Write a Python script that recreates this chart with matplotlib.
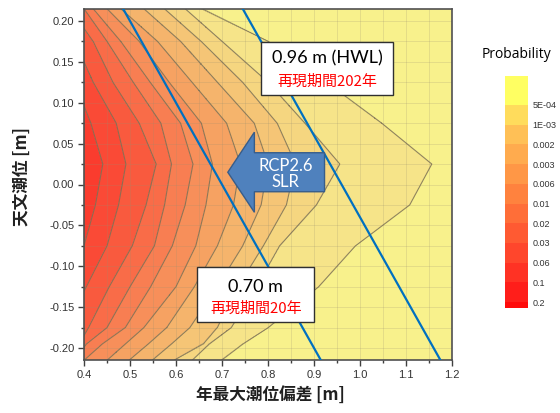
import numpy as np
import matplotlib
matplotlib.use("Agg")
import matplotlib.pyplot as plt
from matplotlib.cm import ScalarMappable
from matplotlib.colors import ListedColormap, BoundaryNorm
from matplotlib.patches import Rectangle, FancyArrow
from matplotlib.ticker import MultipleLocator

plt.rcParams['font.family'] = ['Liberation Sans', 'Noto Sans CJK JP', 'DejaVu Sans']
CJK = ['Noto Sans CJK JP', 'DejaVu Sans']

# probability contour levels (high -> low) and their colorbar labels
prob_levels = [0.2, 0.1, 0.06, 0.03, 0.02, 0.01, 0.006, 0.003, 0.002, 1e-3, 5e-4]
level_labels = ['0.2', '0.1', '0.06', '0.03', '0.02', '0.01', '0.006', '0.003', '0.002', '1E-03', '5E-04']

# astronomical tide rows [m]
tide_rows = [0.215, 0.175, 0.125, 0.075, 0.025, -0.025, -0.075, -0.125, -0.175, -0.195, -0.215]

# annual max surge [m] where each probability contour crosses the tide rows
cross_p2000 = [0.30, 0.34, 0.38, 0.415, 0.441, 0.425, 0.400, 0.360, 0.320, 0.300, 0.280]
cross_p1000 = [0.34, 0.38, 0.42, 0.470, 0.491, 0.475, 0.450, 0.405, 0.360, 0.340, 0.320]
cross_p0600 = [0.37, 0.42, 0.463, 0.520, 0.557, 0.535, 0.505, 0.455, 0.410, 0.390, 0.350]
cross_p0300 = [0.40, 0.45, 0.507, 0.567, 0.590, 0.575, 0.553, 0.500, 0.450, 0.405, 0.380]
cross_p0200 = [0.42, 0.48, 0.544, 0.610, 0.637, 0.620, 0.592, 0.545, 0.490, 0.440, 0.400]
cross_p0100 = [0.45, 0.52, 0.585, 0.655, 0.679, 0.665, 0.643, 0.600, 0.530, 0.490, 0.450]
cross_p0060 = [0.48, 0.56, 0.635, 0.710, 0.740, 0.725, 0.690, 0.640, 0.580, 0.540, 0.498]
cross_p0030 = [0.53, 0.61, 0.690, 0.770, 0.800, 0.785, 0.745, 0.690, 0.630, 0.590, 0.548]
cross_p0020 = [0.575, 0.655, 0.745, 0.820, 0.860, 0.840, 0.790, 0.735, 0.690, 0.660, 0.596]
cross_p0010 = [0.62, 0.70, 0.800, 0.880, 0.956, 0.905, 0.825, 0.775, 0.720, 0.672, 0.635]
cross_p0005 = [0.655, 0.80, 0.927, 1.047, 1.156, 1.108, 0.990, 0.910, 0.800, 0.745, 0.698]

# total water levels of the two reference lines [m]
total_levels = [0.70, 0.96]

# map fill colours, from the >0.2 region down to the <5E-04 region
map_colors = ['#fa3c2e', '#fa4a36', '#f95a3e', '#f96c48', '#f87e52', '#f78f5a',
              '#f6a262', '#f5b46c', '#f5c576', '#f5d680', '#f6e489', '#f8f18c']
# colorbar colours, same order
bar_colors = ['#ff0a0a', '#ff1e1a', '#ff3224', '#ff462c', '#ff5a32', '#ff6e38',
              '#ff823e', '#ff9746', '#ffab4e', '#ffc056', '#ffdc5c', '#ffff62']

cross = np.array([cross_p2000, cross_p1000, cross_p0600, cross_p0300, cross_p0200,
                  cross_p0100, cross_p0060, cross_p0030, cross_p0020, cross_p0010,
                  cross_p0005])
neglog = -np.log10(prob_levels)

# contour vertices are joined by straight segments, so sample the table densely
surge = np.linspace(0.38, 1.22, 841)
tide = np.linspace(-0.215, 0.215, 345)
rows = np.array(tide_rows)[::-1]
Z = np.empty((tide.size, surge.size))
for i, t in enumerate(tide):
    xc = [np.interp(t, rows, c[::-1]) for c in cross]
    xs = np.concatenate([[0.0], xc, [2.0]])
    zs = np.concatenate([[neglog[0] - 1.0], neglog, [neglog[-1] + 1.0]])
    Z[i] = np.interp(surge, xs, zs)

map_cmap = ListedColormap(map_colors[1:-1])
map_cmap.set_under(map_colors[0])
map_cmap.set_over(map_colors[-1])
bar_cmap = ListedColormap(bar_colors)

fig = plt.figure(figsize=(5.6, 4.13), dpi=100)
ax = fig.add_axes([84 / 560, 53 / 413, 368 / 560, 351 / 413])

ax.contourf(surge, tide, Z, levels=neglog, cmap=map_cmap, extend='both')
ax.contour(surge, tide, Z, levels=neglog, colors='#7d6f55', linewidths=0.8, alpha=0.85)

# reference total water level lines: surge + tide = const
for lv in total_levels:
    yy = np.array([-0.3, 0.3])
    ax.plot(lv - yy, yy, color='#0070c0', lw=1.6, zorder=4)

ax.set_xlim(0.4, 1.2)
ax.set_ylim(-0.2147, 0.2147)
ax.xaxis.set_major_locator(MultipleLocator(0.1))
ax.xaxis.set_minor_locator(MultipleLocator(0.05))
ax.yaxis.set_major_locator(MultipleLocator(0.05))
ax.yaxis.set_minor_locator(MultipleLocator(0.025))
ax.xaxis.set_major_formatter(plt.FuncFormatter(lambda v, p: f'{v:.1f}'))
ax.yaxis.set_major_formatter(plt.FuncFormatter(lambda v, p: f'{v:.2f}'))
ax.tick_params(which='major', length=4, width=1, color='#404040', labelsize=8,
               labelcolor='#333333', pad=3)
ax.tick_params(which='minor', length=2.5, width=1, color='#404040')
ax.grid(which='both', color='#9a8f70', alpha=0.25, lw=0.6)
for sp in ax.spines.values():
    sp.set_color('#505050')
    sp.set_linewidth(1.2)

# label boxes
ax.add_patch(Rectangle((0.7856, 0.1095), 0.2854, 0.0648, facecolor='white',
                       edgecolor='#303030', lw=1.0, zorder=5))
ax.text(0.928, 0.1545, '0.96 m (HWL)', ha='center', va='center', fontsize=13,
        family=['Lato', 'DejaVu Sans'], zorder=6)
ax.text(0.928, 0.1262, '再現期間202年', ha='center', va='center', fontsize=10.8,
        color='#ff0000', family=CJK, zorder=6)

ax.add_patch(Rectangle((0.646, -0.1682), 0.255, 0.0673, facecolor='white',
                       edgecolor='#303030', lw=1.0, zorder=5))
ax.text(0.7735, -0.1254, '0.70 m', ha='center', va='center', fontsize=13,
        family=['Lato', 'DejaVu Sans'], zorder=6)
ax.text(0.7735, -0.1515, '再現期間20年', ha='center', va='center', fontsize=10.8,
        color='#ff0000', family=CJK, zorder=6)

# sea level rise arrow
ax.add_patch(FancyArrow(0.9229, 0.0150, -0.2103, 0.0, width=0.0477, head_width=0.098,
                        head_length=0.0578, length_includes_head=True,
                        facecolor='#4f81bd', edgecolor='#385d8a', lw=1.0, zorder=5))
ax.text(0.838, 0.0129, 'RCP2.6\nSLR', ha='center', va='center', fontsize=12,
        color='white', linespacing=1.05, family=['Lato', 'DejaVu Sans'], zorder=6)

fig.text(270 / 560, 1 - 395 / 413, '年最大潮位偏差 [m]', ha='center', va='center',
         fontsize=12, family=CJK, weight='bold', color='#202020')
fig.text(22 / 560, 1 - 176 / 413, '天文潮位 [m]', ha='center', va='center',
         rotation=90, fontsize=12, family=CJK, weight='bold', color='#202020')

# colorbar
cax = fig.add_axes([505 / 560, 105 / 413, 23 / 560, 232 / 413])
sm = ScalarMappable(norm=BoundaryNorm(neglog, bar_cmap.N, extend='both'), cmap=bar_cmap)
cb = fig.colorbar(sm, cax=cax, extend='both', extendrect=True, extendfrac=(0.03, 0.147))
cb.set_ticks(neglog)
cb.set_ticklabels(level_labels)
cb.outline.set_visible(False)
cax.tick_params(length=0, labelsize=6.5, labelcolor='#333333', pad=3)
fig.text(482 / 560, 1 - 55 / 413, 'Probability', ha='left', va='center', fontsize=10,
         family=['Open Sans', 'DejaVu Sans'])

fig.savefig('out.png', dpi=100)
